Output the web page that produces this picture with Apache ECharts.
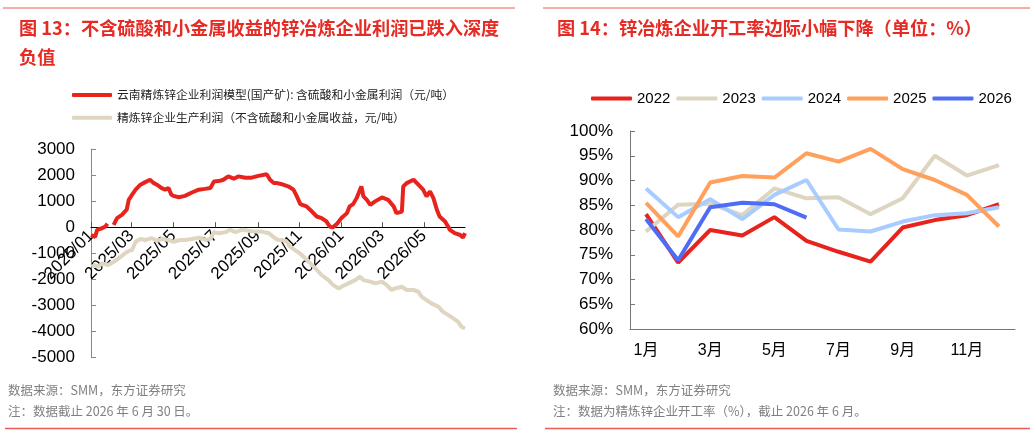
<!DOCTYPE html>
<html>
<head>
<meta charset="utf-8">
<script src="https://cdn.jsdelivr.net/npm/echarts@6/dist/echarts.min.js"></script>
<style>
  html, body { margin: 0; padding: 0; background: #fff; }
  #chart { width: 1033px; height: 435px; }
</style>
</head>
<body>
<div id="chart"></div>
<script>
// 图13：云南精炼锌企业利润模型（含硫酸和小金属）
const yunnanDates = ['2025/01/01','2025/01/07','2025/01/10','2025/01/17','2025/01/22','2025/01/25','2025/01/29',
  '2025/02/03','2025/02/08','2025/02/15','2025/02/22','2025/02/25','2025/03/02','2025/03/07','2025/03/14','2025/03/19',
  '2025/03/28','2025/04/02','2025/04/07','2025/04/14','2025/04/19','2025/04/24','2025/04/28','2025/05/01','2025/05/09',
  '2025/05/18','2025/05/28','2025/06/07','2025/06/16','2025/06/24','2025/06/29','2025/07/06','2025/07/13','2025/07/20',
  '2025/07/28','2025/08/04','2025/08/14','2025/08/23','2025/09/02','2025/09/14','2025/09/19','2025/09/24','2025/09/28',
  '2025/10/06','2025/10/16','2025/10/23','2025/10/28','2025/11/02','2025/11/11','2025/11/19','2025/11/26','2025/12/03',
  '2025/12/10','2025/12/15','2025/12/19','2025/12/25','2026/01/01','2026/01/09','2026/01/13','2026/01/18','2026/01/23',
  '2026/01/28','2026/01/30','2026/02/02','2026/02/07','2026/02/12','2026/02/19','2026/03/01','2026/03/10','2026/03/18',
  '2026/03/22','2026/03/30','2026/04/01','2026/04/06','2026/04/16','2026/04/23','2026/04/30','2026/05/05','2026/05/10',
  '2026/05/15','2026/05/20','2026/05/24','2026/06/01','2026/06/08','2026/06/15','2026/06/23','2026/06/27','2026/06/30']
const yunnanVals = [-300,-370,-100,-40,30,130,'-',
  90,350,470,670,1050,1250,1440,1630,1700,
  1820,1700,1630,1500,1440,1500,1250,1200,1150,
  1200,1330,1440,1470,1500,1750,1770,1820,1950,
  1860,1950,1900,1900,1970,2030,1820,1700,1700,
  1650,1560,1440,1180,885,800,600,410,350,
  220,25,-10,115,350,540,800,885,1115,
  1440,1560,1180,1050,860,990,1140,1050,800,
  540,600,1560,1690,1820,1630,1440,1180,1370,
  1115,670,410,220,-100,-230,-300,-400,-230]

// 精炼锌企业生产利润（不含硫酸和小金属收益）
const netDates = ['2025/01/02','2025/01/07','2025/01/12','2025/01/17','2025/01/26','2025/02/05','2025/02/15','2025/02/22',
  '2025/03/02','2025/03/07','2025/03/14','2025/03/21','2025/03/31','2025/04/07','2025/04/14','2025/04/24','2025/05/01',
  '2025/05/11','2025/05/18','2025/05/28','2025/06/07','2025/06/16','2025/06/24','2025/06/29','2025/07/06','2025/07/16',
  '2025/07/23','2025/07/30','2025/08/09','2025/08/19','2025/08/28','2025/09/07','2025/09/17','2025/09/26','2025/10/01',
  '2025/10/06','2025/10/13','2025/10/18','2025/10/25','2025/11/04','2025/11/14','2025/11/24','2025/12/03','2025/12/13',
  '2025/12/20','2025/12/28','2026/01/01','2026/01/11','2026/01/21','2026/01/28','2026/02/02','2026/02/12','2026/02/19',
  '2026/03/01','2026/03/08','2026/03/15','2026/03/20','2026/03/30','2026/04/06','2026/04/16','2026/04/23','2026/04/28',
  '2026/05/05','2026/05/12','2026/05/22','2026/05/29','2026/06/06','2026/06/13','2026/06/20','2026/06/25','2026/06/30']
const netVals = [-1515,-1450,-1515,-1390,-1450,-1300,-1100,-950,
  -870,-560,-450,-490,-420,-530,-450,-490,-560,
  -490,-490,-450,-400,-490,-450,-190,-230,-190,
  -100,-190,-100,-140,-170,-170,-230,-420,-490,
  -490,-550,-745,-870,-1065,-1320,-1580,-1835,-2030,
  -2220,-2350,-2285,-2155,-2030,-1900,-2030,-2090,-2155,
  -2090,-2220,-2410,-2350,-2285,-2410,-2410,-2475,-2670,
  -2800,-2925,-3050,-3250,-3375,-3500,-3630,-3820,-3880]

const tickMonths = ['2025/01','2025/03','2025/05','2025/07','2025/09','2025/11','2026/01','2026/03','2026/05']

// 图14：锌冶炼企业开工率（%）
const months = ['1月','2月','3月','4月','5月','6月','7月','8月','9月','10月','11月','12月']
const rate2022 = [83.2,73.4,80.0,78.9,82.6,77.8,75.6,73.6,80.5,82.0,83.0,85.2]
const rate2023 = [79.7,85.1,85.3,83.0,88.4,86.4,86.6,83.2,86.4,95.0,91.0,93.1]
const rate2024 = [88.4,82.6,86.2,82.2,87.1,90.1,80.1,79.7,81.7,83.0,83.4,84.6]
const rate2025 = [85.5,78.7,89.6,90.9,90.6,95.5,93.8,96.4,92.3,90.1,87.1,80.7]
const rate2026 = [82.2,73.9,84.6,85.5,85.2,82.5]

// 日期类目轴（每日一格）
const allDays = []
for (let t = Date.UTC(2025, 0, 1); t <= Date.UTC(2026, 5, 30); t += 86400000) {
  const d = new Date(t)
  allDays.push(d.getUTCFullYear() + '/' + String(d.getUTCMonth() + 1).padStart(2, '0') + '/' + String(d.getUTCDate()).padStart(2, '0'))
}
const isTick = (idx, value) => value.endsWith('/01') && tickMonths.includes(value.slice(0, 7))

const font = '"Liberation Sans", Arial, "Noto Sans CJK SC", sans-serif'
const cjk = '"Noto Sans CJK SC", sans-serif'
const red = '#E8231E'
const tan = '#DED6C1'
const titleRed = '#E62A24'
const lineRed = '#EE5A55'
const grey = '#808080'

// 左图：x 轴放在 0 值处
const gridTop = 149, gridH = 208.5, yMin = -5000, yMax = 3000
const zeroOffset = -gridH * (0 - yMin) / (yMax - yMin)

const chart = echarts.init(document.getElementById('chart'))
chart.setOption({
  backgroundColor: '#fff',
  animation: false,
  textStyle: { fontFamily: font },
  title: [
    {
      text: '图 13：不含硫酸和小金属收益的锌冶炼企业利润已跌入深度\n负值',
      left: 14, top: 9,
      textStyle: { color: titleRed, fontSize: 18.2, fontWeight: 'bold', lineHeight: 29, fontFamily: cjk }
    },
    {
      text: '图 14：锌冶炼企业开工率边际小幅下降（单位：%）',
      left: 552, top: 9,
      textStyle: { color: titleRed, fontSize: 18.2, fontWeight: 'bold', lineHeight: 29, fontFamily: cjk }
    }
  ],
  legend: [
    {
      data: ['云南精炼锌企业利润模型(国产矿): 含硫酸和小金属利润（元/吨）', '精炼锌企业生产利润（不含硫酸和小金属收益，元/吨）'],
      orient: 'vertical',
      left: 67, top: 84,
      icon: 'roundRect',
      itemWidth: 40, itemHeight: 4, itemGap: 11,
      selectedMode: false,
      textStyle: { fontSize: 11.8, color: '#222', fontFamily: cjk }
    },
    {
      data: ['2022', '2023', '2024', '2025', '2026'],
      left: 586, top: 86,
      icon: 'roundRect',
      itemWidth: 41, itemHeight: 4, itemGap: 6,
      selectedMode: false,
      textStyle: { fontSize: 15, color: '#000', fontFamily: font }
    }
  ],
  grid: [
    { left: 91, top: gridTop, width: 374, height: gridH },
    { left: 630, top: 131, width: 385, height: 198 }
  ],
  xAxis: [
    {
      type: 'category',
      gridIndex: 0,
      data: allDays,
      boundaryGap: false,
      z: 3,
      offset: zeroOffset,
      axisLine: { onZero: false, lineStyle: { color: '#000', width: 1 } },
      axisTick: { inside: true, length: 5, interval: isTick, lineStyle: { color: '#555' } },
      axisLabel: {
        interval: isTick,
        rotate: 45,
        fontSize: 17,
        color: '#000',
        margin: 6,
        formatter: v => v.slice(0, 7)
      }
    },
    {
      type: 'category',
      gridIndex: 1,
      data: months,
      boundaryGap: true,
      axisLine: { lineStyle: { color: '#777' } },
      axisTick: { inside: true, length: 5, interval: 1, lineStyle: { color: '#777' } },
      axisLabel: { interval: 1, fontSize: 16, color: '#000', margin: 14, fontFamily: font }
    }
  ],
  yAxis: [
    {
      type: 'value',
      gridIndex: 0,
      min: yMin, max: yMax, interval: 1000,
      axisLine: { show: true, lineStyle: { color: '#888' } },
      axisTick: { show: true, inside: true, length: 5, lineStyle: { color: '#888' } },
      splitLine: { show: false },
      axisLabel: { fontSize: 17, color: '#000', margin: 16, formatter: v => String(v) }
    },
    {
      type: 'value',
      gridIndex: 1,
      min: 60, max: 100, interval: 5,
      axisLine: { show: true, lineStyle: { color: '#777' } },
      axisTick: { show: true, inside: true, length: 5, lineStyle: { color: '#777' } },
      splitLine: { show: false },
      axisLabel: { fontSize: 17, color: '#000', margin: 17, formatter: '{value}%' }
    }
  ],
  series: [
    {
      name: '精炼锌企业生产利润（不含硫酸和小金属收益，元/吨）',
      type: 'line', xAxisIndex: 0, yAxisIndex: 0,
      data: netDates.map((d, i) => [d, netVals[i]]),
      showSymbol: false, symbol: 'none',
      itemStyle: { color: tan },
      lineStyle: { color: tan, width: 4 }
    },
    {
      name: '云南精炼锌企业利润模型(国产矿): 含硫酸和小金属利润（元/吨）',
      type: 'line', xAxisIndex: 0, yAxisIndex: 0,
      data: yunnanDates.map((d, i) => [d, yunnanVals[i]]),
      connectNulls: false,
      showSymbol: false, symbol: 'none',
      itemStyle: { color: red },
      lineStyle: { color: red, width: 4 }
    },
    { name: '2022', type: 'line', xAxisIndex: 1, yAxisIndex: 1, data: rate2022, symbol: 'none', itemStyle: { color: '#E8231E' }, lineStyle: { width: 4 } },
    { name: '2023', type: 'line', xAxisIndex: 1, yAxisIndex: 1, data: rate2023, symbol: 'none', itemStyle: { color: '#DDD5BF' }, lineStyle: { width: 4 } },
    { name: '2024', type: 'line', xAxisIndex: 1, yAxisIndex: 1, data: rate2024, symbol: 'none', itemStyle: { color: '#A8CCFF' }, lineStyle: { width: 4 } },
    { name: '2025', type: 'line', xAxisIndex: 1, yAxisIndex: 1, data: rate2025, symbol: 'none', itemStyle: { color: '#FFA05C' }, lineStyle: { width: 4 } },
    { name: '2026', type: 'line', xAxisIndex: 1, yAxisIndex: 1, data: rate2026, symbol: 'none', itemStyle: { color: '#4E6CF6' }, lineStyle: { width: 4 } }
  ],
  graphic: [
    { type: 'line', shape: { x1: 3, y1: 8, x2: 515, y2: 8 }, style: { stroke: lineRed, lineWidth: 1 } },
    { type: 'line', shape: { x1: 543, y1: 8, x2: 1030, y2: 8 }, style: { stroke: lineRed, lineWidth: 1 } },
    { type: 'line', shape: { x1: 5, y1: 428.5, x2: 517, y2: 428.5 }, style: { stroke: lineRed, lineWidth: 1.5 } },
    { type: 'line', shape: { x1: 545, y1: 428.5, x2: 1030, y2: 428.5 }, style: { stroke: lineRed, lineWidth: 1.5 } },
    { type: 'text', left: 8, top: 384, style: { text: '数据来源：SMM，东方证券研究', fill: grey, fontSize: 12.5, fontFamily: cjk } },
    { type: 'text', left: 8, top: 405, style: { text: '注：数据截止 2026 年 6 月 30 日。', fill: grey, fontSize: 12.5, fontFamily: cjk } },
    { type: 'text', left: 553, top: 384, style: { text: '数据来源：SMM，东方证券研究', fill: grey, fontSize: 12.5, fontFamily: cjk } },
    { type: 'text', left: 553, top: 405, style: { text: '注：数据为精炼锌企业开工率（%），截止 2026 年 6 月。', fill: grey, fontSize: 12.5, fontFamily: cjk } }
  ]
})
</script>
</body>
</html>
